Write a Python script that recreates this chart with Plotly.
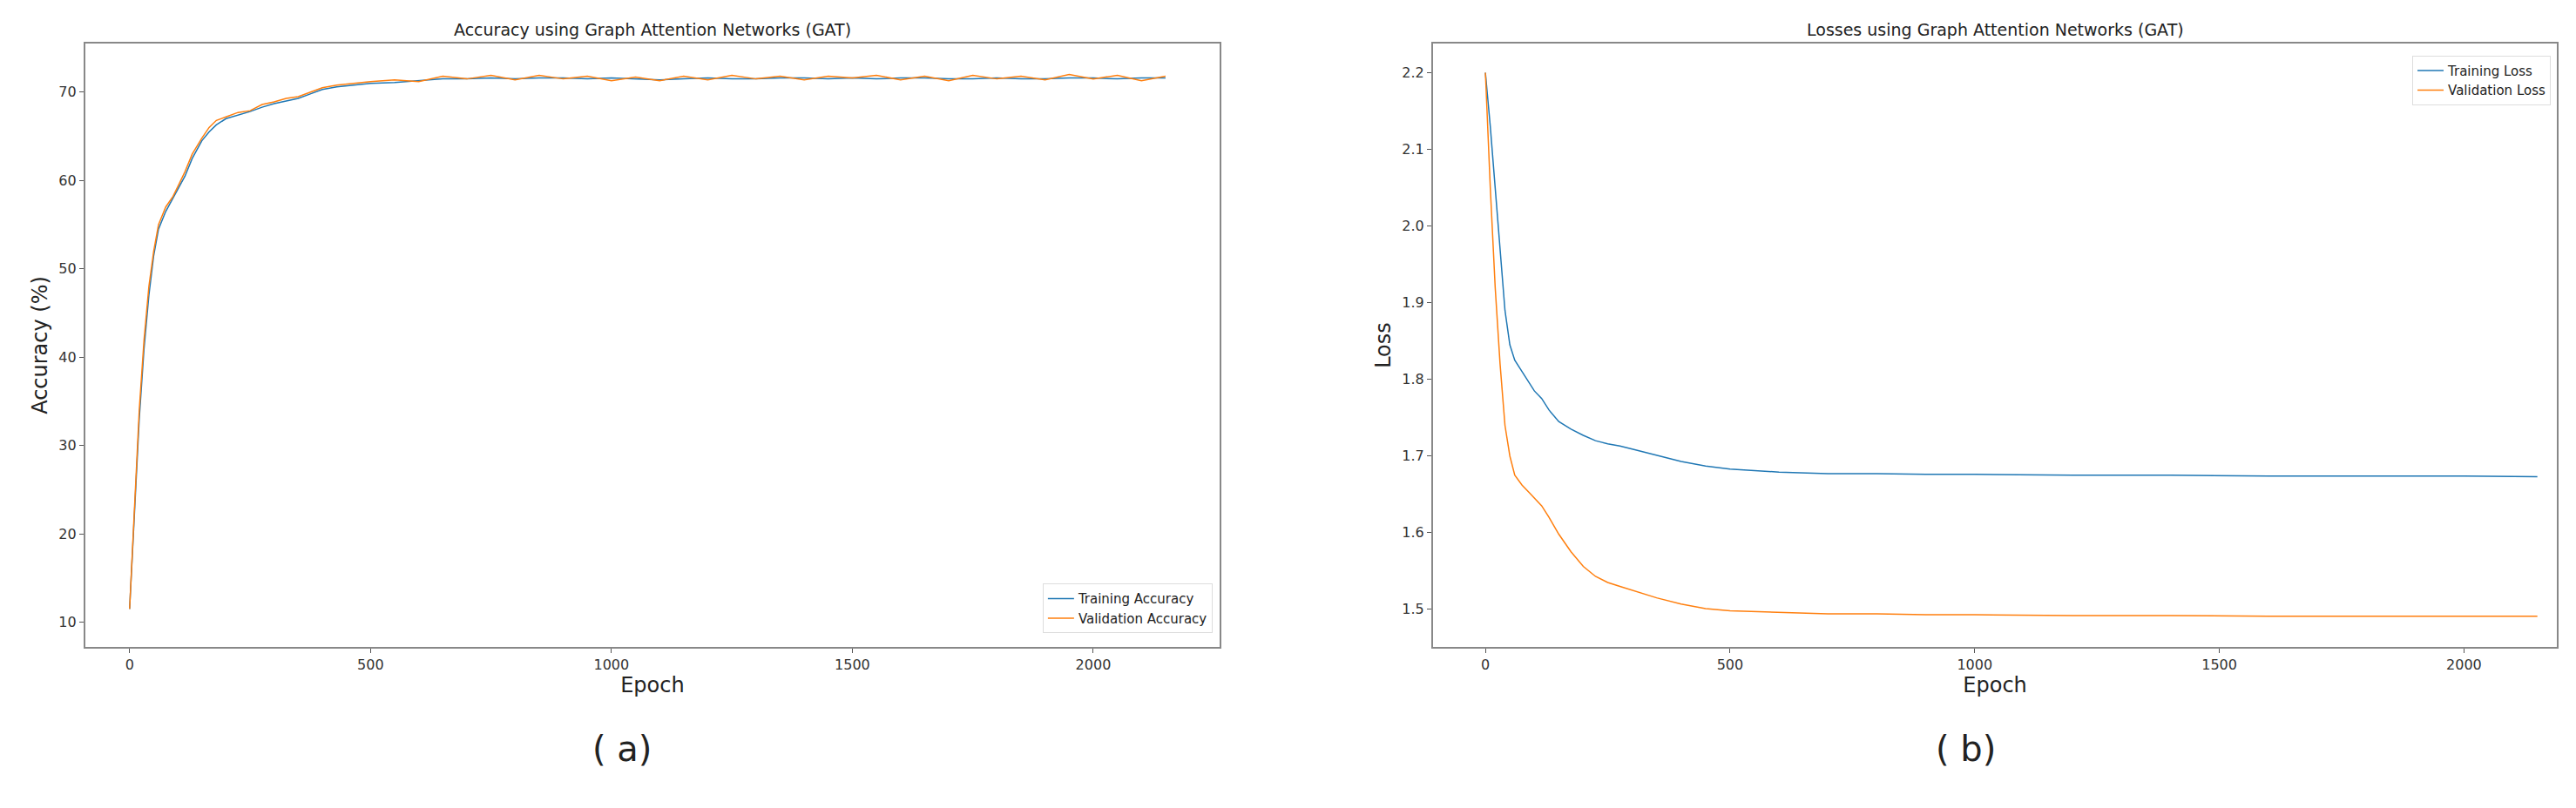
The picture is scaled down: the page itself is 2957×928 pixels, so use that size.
import plotly.graph_objects as go

acc_epochs = [0, 10, 20, 30, 40, 50, 60, 75, 90, 100, 115, 130, 150, 165, 180, 200, 225, 250, 275, 300, 325, 350, 375, 400, 430, 460, 500, 550, 600, 650, 700, 750, 800, 850, 900, 950, 1000, 1050, 1100, 1150, 1200, 1250, 1300, 1350, 1400, 1450, 1500, 1550, 1600, 1650, 1700, 1750, 1800, 1850, 1900, 1950, 2000, 2050, 2100, 2150]
train_acc = [11.5, 22, 33, 41, 47, 51.5, 54.5, 56.5, 58, 59, 60.5, 62.5, 64.5, 65.5, 66.3, 67, 67.4, 67.8, 68.3, 68.7, 69.0, 69.3, 69.8, 70.3, 70.6, 70.8, 71.0, 71.1, 71.3, 71.5, 71.5, 71.6, 71.5, 71.6, 71.6, 71.5, 71.6, 71.5, 71.4, 71.5, 71.6, 71.5, 71.5, 71.6, 71.6, 71.5, 71.6, 71.5, 71.6, 71.6, 71.5, 71.5, 71.6, 71.5, 71.5, 71.6, 71.6, 71.5, 71.6, 71.6]
val_acc = [11.5, 22.5, 34, 42, 48, 52, 55, 57, 58.2, 59.3, 61, 63, 64.8, 66, 66.8, 67.2, 67.7, 67.9, 68.6, 68.9, 69.3, 69.5, 70.0, 70.5, 70.8, 71.0, 71.2, 71.4, 71.2, 71.8, 71.5, 71.9, 71.4, 71.9, 71.5, 71.8, 71.3, 71.7, 71.3, 71.8, 71.4, 71.9, 71.5, 71.8, 71.4, 71.8, 71.6, 71.9, 71.4, 71.8, 71.3, 71.9, 71.5, 71.8, 71.4, 72.0, 71.5, 71.9, 71.3, 71.8]

loss_epochs = [0, 10, 20, 30, 40, 50, 60, 75, 90, 100, 115, 130, 150, 175, 200, 225, 250, 275, 300, 350, 400, 450, 500, 600, 700, 800, 900, 1000, 1200, 1400, 1600, 1800, 2000, 2150]
train_loss = [2.2, 2.13, 2.05, 1.97, 1.89, 1.845, 1.825, 1.81, 1.795, 1.785, 1.775, 1.76, 1.745, 1.735, 1.727, 1.72, 1.716, 1.713, 1.709, 1.701, 1.693, 1.687, 1.683, 1.679, 1.677, 1.677, 1.676, 1.676, 1.675, 1.675, 1.674, 1.674, 1.674, 1.673]
val_loss = [2.2, 2.05, 1.92, 1.82, 1.74, 1.70, 1.675, 1.662, 1.652, 1.645, 1.635, 1.62, 1.598, 1.575, 1.556, 1.543, 1.535, 1.530, 1.525, 1.515, 1.507, 1.501, 1.498, 1.496, 1.494, 1.494, 1.493, 1.493, 1.492, 1.492, 1.491, 1.491, 1.491, 1.491]

BLUE = "#1f77b4"
ORANGE = "#ff7f0e"
FONT = "DejaVu Sans"

fig = go.Figure()
fig.add_trace(go.Scatter(x=acc_epochs, y=train_acc, mode="lines", name="Training Accuracy",
                         line=dict(color=BLUE, width=1.5), xaxis="x", yaxis="y", legend="legend"))
fig.add_trace(go.Scatter(x=acc_epochs, y=val_acc, mode="lines", name="Validation Accuracy",
                         line=dict(color=ORANGE, width=1.5), xaxis="x", yaxis="y", legend="legend"))
fig.add_trace(go.Scatter(x=loss_epochs, y=train_loss, mode="lines", name="Training Loss",
                         line=dict(color=BLUE, width=1.5), xaxis="x2", yaxis="y2", legend="legend2"))
fig.add_trace(go.Scatter(x=loss_epochs, y=val_loss, mode="lines", name="Validation Loss",
                         line=dict(color=ORANGE, width=1.5), xaxis="x2", yaxis="y2", legend="legend2"))

ax = dict(showline=True, linecolor="#888", linewidth=2, mirror=True, ticks="outside",
          ticklen=5, tickcolor="#555", showgrid=False, zeroline=False,
          tickfont=dict(size=16, color="#333"))
fig.update_layout(
    width=2957, height=928, paper_bgcolor="white", plot_bgcolor="white",
    margin=dict(l=0, r=0, t=0, b=0), font=dict(family=FONT, color="#222"),
    xaxis=dict(ax, domain=[0.0304, 0.4707], range=[-92, 2262], tickvals=[0, 500, 1000, 1500, 2000],
               title=dict(text="Epoch", font=dict(size=24), standoff=2), anchor="y"),
    yaxis=dict(ax, domain=[0.208, 0.9547], range=[7.2, 75.5], tickvals=[10, 20, 30, 40, 50, 60, 70],
               title=dict(text="Accuracy (%)", font=dict(size=24), standoff=6), anchor="x"),
    xaxis2=dict(ax, domain=[0.5536, 0.9899], range=[-107, 2190], tickvals=[0, 500, 1000, 1500, 2000],
                title=dict(text="Epoch", font=dict(size=24), standoff=2), anchor="y2"),
    yaxis2=dict(ax, domain=[0.208, 0.9547], range=[1.451, 2.238],
                tickvals=[1.5, 1.6, 1.7, 1.8, 1.9, 2.0, 2.1, 2.2], tickformat=".1f",
                title=dict(text="Loss", font=dict(size=24), standoff=6), anchor="x2"),
    legend=dict(x=0.468, y=0.225, xanchor="right", yanchor="bottom", bgcolor="rgba(255,255,255,0.8)",
                bordercolor="#ddd", borderwidth=1, font=dict(size=15)),
    legend2=dict(x=0.9875, y=0.94, xanchor="right", yanchor="top", bgcolor="rgba(255,255,255,0.8)",
                 bordercolor="#ddd", borderwidth=1, font=dict(size=15)),
    annotations=[
        dict(text="Accuracy using Graph Attention Networks (GAT)", x=0.2505, y=0.958, xref="paper", yref="paper",
             xanchor="center", yanchor="bottom", showarrow=False, font=dict(size=19, color="#222")),
        dict(text="Losses using Graph Attention Networks (GAT)", x=0.7718, y=0.958, xref="paper", yref="paper",
             xanchor="center", yanchor="bottom", showarrow=False, font=dict(size=19, color="#222")),
        dict(text="( a)", x=670/2957, y=1-877/928, xref="paper", yref="paper", showarrow=False,
             font=dict(size=40, color="#222")),
        dict(text="( b)", x=2285/2957, y=1-877/928, xref="paper", yref="paper", showarrow=False,
             font=dict(size=40, color="#222")),
    ],
)
fig.write_html("out.html")
